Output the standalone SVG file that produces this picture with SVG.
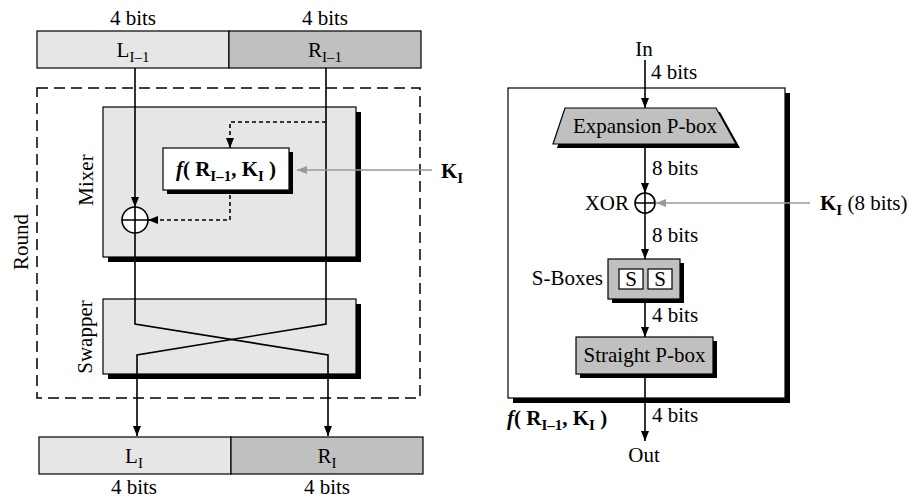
<svg xmlns="http://www.w3.org/2000/svg" width="913" height="500" viewBox="0 0 913 500">
<style>
text{font-family:"Liberation Serif","Times New Roman",serif;font-size:21px;fill:#000}
.b{font-weight:bold}
.sub{font-size:15px}
.ln{stroke:#000;stroke-width:1.6;fill:none}
.gl{stroke:#999;stroke-width:1.6;fill:none}
.dl{stroke:#000;stroke-width:1.6;fill:none;stroke-dasharray:4 3}
.rd{stroke:#000;stroke-width:1.5;fill:none;stroke-dasharray:11 6}
.lt{fill:#e6e6e6;stroke:#000;stroke-width:1.2}
.dk{fill:#c0c0c0;stroke:#000;stroke-width:1.2}
.wh{fill:#fff;stroke:#000;stroke-width:1.2}
.sh{fill:#000}
</style>
<defs>
<marker id="ah" viewBox="0 0 10 8" refX="10" refY="4" markerWidth="10" markerHeight="8" markerUnits="userSpaceOnUse" orient="auto"><path d="M0,0 L10,4 L0,8 z" fill="#000" stroke="none"/></marker>
<marker id="ag" viewBox="0 0 10 8" refX="10" refY="4" markerWidth="10" markerHeight="8" markerUnits="userSpaceOnUse" orient="auto"><path d="M0,0 L10,4 L0,8 z" fill="#999" stroke="none"/></marker>
</defs>

<!-- LEFT: Feistel round -->
<g id="round">
<rect x="37" y="88" width="383" height="310" class="rd"/>
<text transform="translate(28,242) rotate(-90)" text-anchor="middle">Round</text>
</g>
<g id="top-bar">
<rect x="37" y="31" width="192" height="37" class="lt"/>
<rect x="229" y="31" width="192" height="37" class="dk"/>
<text x="133" y="25" text-anchor="middle">4 bits</text>
<text x="325" y="25" text-anchor="middle">4 bits</text>
<text x="133" y="57" text-anchor="middle">L<tspan class="sub" dy="5">I–1</tspan></text>
<text x="325" y="57" text-anchor="middle">R<tspan class="sub" dy="5">I–1</tspan></text>
</g>
<g id="mixer">
<rect x="108" y="112" width="253" height="150" class="sh"/>
<rect x="103" y="107" width="253" height="150" class="lt"/>
<text transform="translate(93,180) rotate(-90)" text-anchor="middle">Mixer</text>
</g>
<g id="swapper">
<rect x="108" y="304" width="253" height="75" class="sh"/>
<rect x="103" y="299" width="253" height="75" class="lt"/>
<text transform="translate(92,337) rotate(-90)" text-anchor="middle">Swapper</text>
</g>
<g id="f-box">
<rect x="167" y="152" width="126" height="42" class="sh"/>
<rect x="163" y="148" width="126" height="42" class="wh"/>
<text x="226" y="176" text-anchor="middle" class="b"><tspan font-style="italic">f</tspan>( R<tspan class="sub" dy="5">I–1</tspan><tspan dy="-5">, K</tspan><tspan class="sub" dy="5">I</tspan><tspan dy="-5"> )</tspan></text>
</g>
<g id="xor-left">
<circle cx="135" cy="220" r="13" fill="#fff" stroke="#000" stroke-width="1.6"/>
<path d="M122,220 H148 M135,207 V233" class="ln"/>
</g>
<g id="ki-left">
<text x="441" y="178" class="b">K<tspan class="sub" dy="5">I</tspan></text>
</g>
<g id="bottom-bar">
<rect x="39" y="437" width="192" height="37" class="lt"/>
<rect x="231" y="437" width="192" height="37" class="dk"/>
<text x="134" y="463" text-anchor="middle">L<tspan class="sub" dy="5">I</tspan></text>
<text x="327" y="463" text-anchor="middle">R<tspan class="sub" dy="5">I</tspan></text>
<text x="134" y="494" text-anchor="middle">4 bits</text>
<text x="327" y="494" text-anchor="middle">4 bits</text>
</g>

<!-- RIGHT: f function -->
<g id="f-function">
<rect x="513" y="93" width="277" height="310" class="sh"/>
<rect x="508" y="88" width="277" height="310" fill="#fff" stroke="#000" stroke-width="1.2"/>
<text x="507" y="425" class="b"><tspan font-style="italic">f</tspan>( R<tspan class="sub" dy="5">I–1</tspan><tspan dy="-5">, K</tspan><tspan class="sub" dy="5">I</tspan><tspan dy="-5"> )</tspan></text>
</g>
<g id="expansion">
<polygon points="569,112 720,112 740,148 557,148" class="sh"/>
<polygon points="565,108 716,108 736,144 553,144" class="dk"/>
<text x="645" y="133" text-anchor="middle">Expansion P-box</text>
</g>
<g id="xor-right">
<circle cx="645" cy="203" r="10" fill="#fff" stroke="#000" stroke-width="1.6"/>
<path d="M635,203 H655 M645,193 V213" class="ln"/>
<text x="629" y="210" text-anchor="end">XOR</text>
</g>
<g id="s-boxes">
<rect x="612" y="263" width="72" height="40" class="sh"/>
<rect x="608" y="259" width="72" height="40" class="dk"/>
<rect x="619" y="269" width="24" height="20" class="wh"/>
<rect x="648" y="269" width="24" height="20" class="wh"/>
<text x="631" y="286" text-anchor="middle">S</text>
<text x="660" y="286" text-anchor="middle">S</text>
<text x="603" y="285" text-anchor="end">S-Boxes</text>
</g>
<g id="straight">
<rect x="580" y="341" width="137" height="37" class="sh"/>
<rect x="576" y="337" width="137" height="37" class="dk"/>
<text x="644.5" y="362" text-anchor="middle">Straight P-box</text>
</g>
<g id="labels-right">
<text x="644" y="56" text-anchor="middle">In</text>
<text x="651" y="79">4 bits</text>
<text x="652" y="175">8 bits</text>
<text x="652" y="242">8 bits</text>
<text x="652" y="322">4 bits</text>
<text x="652" y="422">4 bits</text>
<text x="644" y="462" text-anchor="middle">Out</text>
<text x="820" y="210" class="b">K<tspan class="sub" dy="5">I</tspan><tspan dy="-5" font-weight="normal"> (8 bits)</tspan></text>
</g>

<g id="connectors">
<!-- left -->
<path d="M135,68 V207" class="ln" marker-end="url(#ah)"/>
<path d="M135,233 V324 L328,355 V436" class="ln" marker-end="url(#ah)"/>
<path d="M326,68 V324 L137,355 V436" class="ln" marker-end="url(#ah)"/>
<path d="M326,122 H230 V148" class="dl" marker-end="url(#ah)"/>
<path d="M230,195 V220 H148" class="dl" marker-end="url(#ah)"/>
<path d="M432,170 H297" class="gl" marker-end="url(#ag)"/>
<!-- right -->
<path d="M645,60 V108" class="ln" marker-end="url(#ah)"/>
<path d="M645,148 V193" class="ln" marker-end="url(#ah)"/>
<path d="M645,213 V259" class="ln" marker-end="url(#ah)"/>
<path d="M645,303 V337" class="ln" marker-end="url(#ah)"/>
<path d="M645,378 V441" class="ln" marker-end="url(#ah)"/>
<path d="M810,203 H656" class="gl" marker-end="url(#ag)"/>
</g>
</svg>
